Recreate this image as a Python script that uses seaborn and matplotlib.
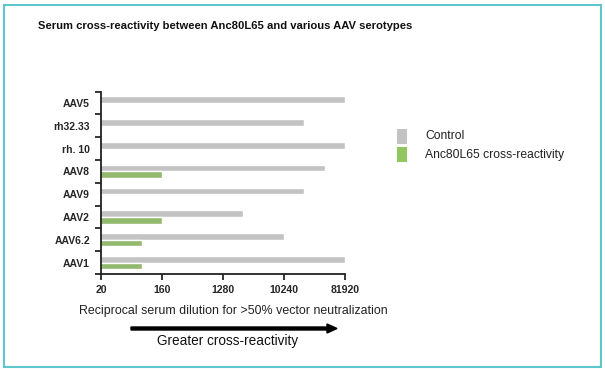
import matplotlib
matplotlib.use("Agg")
import matplotlib.pyplot as plt
from matplotlib.patches import Rectangle, FancyArrow
import seaborn as sns
import pandas as pd

# values (reciprocal dilutions)
serotypes = ['AAV5', 'rh32.33', 'rh. 10', 'AAV8', 'AAV9', 'AAV2', 'AAV6.2', 'AAV1']
control = [81920, 20480, 81920, 40960, 20480, 2560, 10240, 81920]
anc80 = [None, None, None, 160, None, 160, 80, 80]
series = ['Control', 'Anc80L65 cross-reactivity']
colors = ['#c3c3c3', '#92c660']
tick_vals = [20, 160, 1280, 10240, 81920]

rows = []
for s, c, a in zip(serotypes, control, anc80):
    rows.append({'serotype': s, 'group': series[0], 'titer': c})
    rows.append({'serotype': s, 'group': series[1], 'titer': a if a else 0.001})
df = pd.DataFrame(rows)

sns.set_style("white")
plt.rcParams['font.family'] = ['Liberation Sans', 'DejaVu Sans']

fig = plt.figure(figsize=(6.05, 3.71), dpi=100)
ax = fig.add_axes([101 / 605, 1 - 274 / 371, 244 / 605, 182.3 / 371])

sns.barplot(data=df, x='titer', y='serotype', hue='group', order=serotypes,
            hue_order=series, palette=colors, orient='h',
            width=0.58, ax=ax, legend=False)

ax.set_xscale('log', base=2)
ax.set_xlim(20, 81920)
ax.set_ylim(7.5, -0.5)
ax.set_xticks(tick_vals)
ax.set_xticklabels([str(v) for v in tick_vals], fontweight='bold', fontsize=7.6)
ax.xaxis.set_minor_locator(matplotlib.ticker.NullLocator())
ax.set_yticks(range(len(serotypes)))
ax.set_yticklabels(serotypes, fontweight='bold', fontsize=7.5)
ax.set_yticks([i - 0.5 for i in range(len(serotypes) + 1)], minor=True)
ax.tick_params(axis='y', which='major', length=0, pad=8)
ax.tick_params(axis='y', which='minor', length=4, width=1.3, direction='out', left=True)
ax.tick_params(axis='x', which='major', length=4, width=1.3, direction='out', bottom=True, pad=4)
ax.set_xlabel('')
ax.set_ylabel('')
for side in ['top', 'right']:
    ax.spines[side].set_visible(False)
for side in ['left', 'bottom']:
    ax.spines[side].set_linewidth(1.3)
    ax.spines[side].set_color('#222222')

# legend: squares + labels to the right of the plot
for i, (lab, col) in enumerate(zip(series, colors)):
    top = 128.5 + i * 19
    fig.patches.append(Rectangle((397 / 605, 1 - (top + 15) / 371), 10.5 / 605, 15 / 371,
                                 facecolor=col, edgecolor='none',
                                 transform=fig.transFigure, figure=fig))
    fig.text(425 / 605, 1 - (top + 7.5) / 371, lab, fontsize=8.7, va='center', ha='left',
             color='#222222')

fig.text(38 / 605, 1 - 26 / 371, 'Serum cross-reactivity between Anc80L65 and various AAV serotypes',
         fontsize=8.1, fontweight='bold', va='center', ha='left', color='#111111')
fig.text(233 / 605, 1 - 311 / 371, 'Reciprocal serum dilution for >50% vector neutralization',
         fontsize=8.9, va='center', ha='center', color='#222222')
fig.text(228 / 605, 1 - 341 / 371, 'Greater cross-reactivity',
         fontsize=9.8, va='center', ha='center', color='#111111')

fig.patches.append(FancyArrow(131 / 605, 1 - 328.5 / 371, 196 / 605, 0, width=3 / 371,
                              head_width=9 / 371, head_length=10 / 605,
                              length_includes_head=False, color='black',
                              transform=fig.transFigure, figure=fig))
fig.patches.append(Rectangle((3.5 / 605, 4.5 / 371), 597.5 / 605, 362 / 371, fill=False,
                             edgecolor='#5ec6cf', linewidth=1.5,
                             transform=fig.transFigure, figure=fig))

fig.savefig('out.png', dpi=100)
